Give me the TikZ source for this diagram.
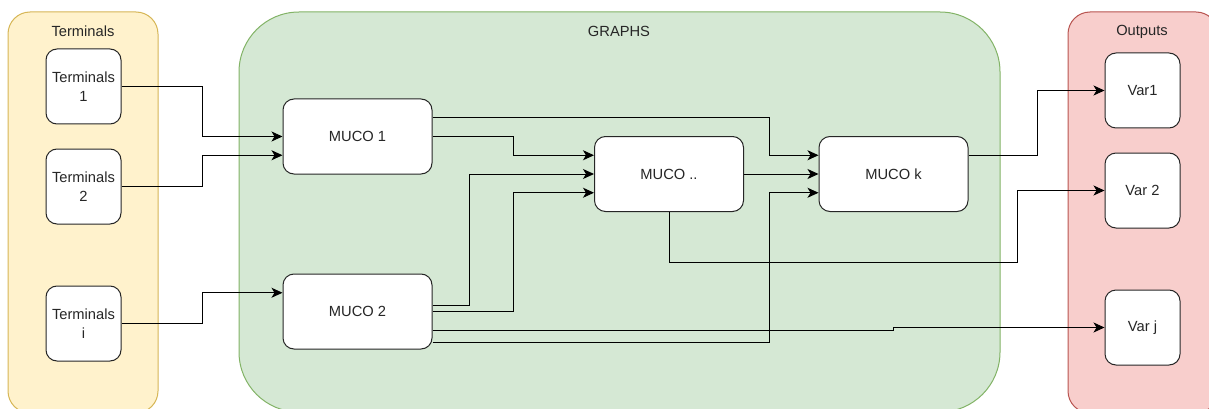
\documentclass[tikz,border=0pt]{standalone}
\usepackage{fontspec}
\setsansfont{Liberation Sans}
\usetikzlibrary{arrows.meta}
\definecolor{termfill} {HTML}{FFF2CC}
\definecolor{termline} {HTML}{D6B656}
\definecolor{graphfill}{HTML}{D5E8D4}
\definecolor{graphline}{HTML}{82B366}
\definecolor{outfill}  {HTML}{F8CECC}
\definecolor{outedge}  {HTML}{B85450}

\begin{document}
\begin{tikzpicture}[x=1pt, y=-1pt, font=\sffamily\fontsize{14.7}{19}\selectfont,
    mucobox/.style={draw=black!85, fill=white, line width=1pt, rounded corners=11pt,
        minimum width=149pt, minimum height=75pt, inner sep=0pt, align=center, text=black!85},
    smallbox/.style={mucobox, minimum width=75pt},
    link/.style={-{Stealth[length=11pt, width=10pt, inset=3pt]}, line width=1pt}]

\useasboundingbox (0,0) rectangle (1209,409);
\clip (0,0) rectangle (1209,409);

% ================================================================
% Panels
% ================================================================
\draw[fill=termfill, draw=termline, line width=1pt, rounded corners=22pt]
    (8,12) rectangle (158,413);
\node[text=black!85] at (83,31.5) {Terminals};

\draw[fill=graphfill, draw=graphline, line width=1pt, rounded corners=60pt]
    (239,12) rectangle (1000,412);
\node[text=black!85] at (619,31.5) {GRAPHS};

\draw[fill=outfill, draw=outedge, line width=1pt, rounded corners=22pt]
    (1068,12) rectangle (1218,413);
\node[text=black!85] at (1142,31.5) {Outputs};

% ================================================================
% Boxes
% ================================================================
\node[smallbox] (term1) at (83.5,86.5)  {Terminals\\1};
\node[smallbox] (term2) at (83.5,186.5) {Terminals\\2};
\node[smallbox] (termi) at (83.5,323.5) {Terminals\\i};

\node[mucobox] (muco1)    at (357.5,136.5) {MUCO 1};
\node[mucobox] (muco2)    at (357.5,311.5) {MUCO 2};
\node[mucobox] (mucodots) at (669,174)     {MUCO ..};
\node[mucobox] (mucok)    at (893.5,174)   {MUCO k};

\node[smallbox] (var1) at (1142.5,90.5)  {Var1};
\node[smallbox] (var2) at (1142.5,190.5) {Var 2};
\node[smallbox] (varj) at (1142.5,327.5) {Var j};

% ================================================================
% Terminals -> MUCO
% ================================================================
\draw[link] (term1.east) -- ++(81,0) |- (muco1.west);
\draw[link] (term2.east) -- ++(81,0) |- ([yshift=-18.75pt]muco1.west);
\draw[link] (termi.east) -- ++(81,0) |- ([yshift=18.75pt]muco2.west);

% ================================================================
% MUCO -> MUCO
% ================================================================
\draw[link] ([yshift=18.75pt]muco1.east) -- ++(337,0) |- ([yshift=18.75pt]mucok.west);
\draw[link] (muco1.east) -- ++(81,0) |- ([yshift=18.75pt]mucodots.west);
\draw[link] ([yshift=6.25pt]muco2.east) -- ++(37,0) |- (mucodots.west);
\draw[link] (muco2.east) -- ++(81,0) |- ([yshift=-18.75pt]mucodots.west);
\draw[link] ([yshift=-31.25pt]muco2.east) -- ++(337,0) |- ([yshift=-18.75pt]mucok.west);
\draw[link] (mucodots.east) -- (mucok.west);

% ================================================================
% MUCO -> Outputs
% ================================================================
\draw[link] ([yshift=18.75pt]mucok.east) -- ++(69,0) |- (var1.west);
\draw[link] (mucodots.south) -- ++(0,50) -| ([xshift=-87pt]var2.west) -- (var2.west);
\draw[link] ([yshift=-18.75pt]muco2.east) -- ++(461,0) |- (varj.west);

\end{tikzpicture}
\end{document}
